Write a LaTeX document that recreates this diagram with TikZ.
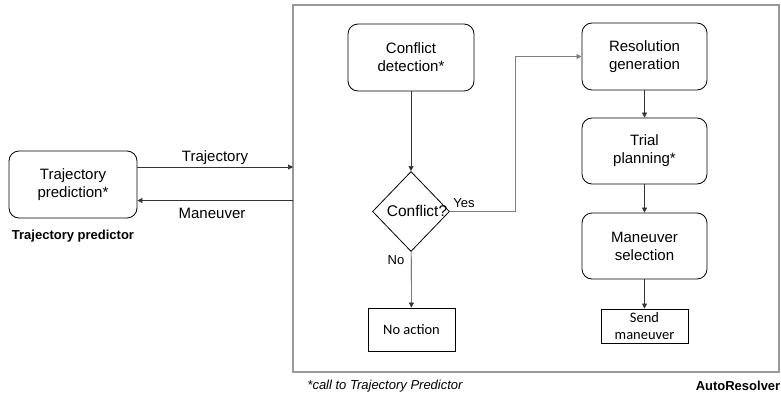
\documentclass[tikz,border=0pt]{standalone}
\usepackage{fontspec}
\setmainfont{Liberation Sans}
\newfontfamily\calib{Carlito}
\usetikzlibrary{shapes.geometric,arrows.meta}
\begin{document}
\begin{tikzpicture}[x=1pt,y=-1pt,
  rbox/.style={draw=black,line width=0.8pt,rounded corners=10pt,align=center,inner sep=0pt,
    font=\fontsize{15}{18}\selectfont},
  sbox/.style={draw=black,line width=0.8pt,align=center,inner sep=0pt,
    font=\calib\fontsize{14.5}{17}\selectfont},
  conn/.style={draw=black!80,line width=0.6pt,-{Triangle[length=5pt,width=5pt]}},
  lbl/.style={font=\fontsize{15}{18}\selectfont,inner sep=0pt},
  small/.style={font=\fontsize{13}{15}\selectfont,inner sep=0pt}]
\useasboundingbox (0,0) rectangle (781,401);
\draw[draw=black!40,line width=1.4pt] (293,5) rectangle (779,372);

\node[rbox,minimum width=128pt,minimum height=67pt] (tp) at (73,184.5) {Trajectory\\prediction*};
\node[small,font=\bfseries\fontsize{13}{15}\selectfont] (tpl) at (73,236) {Trajectory predictor};

\node[rbox,minimum width=126pt,minimum height=67pt] (cd) at (411,57.5) {Conflict\\detection*};
\node[draw=black,line width=0.8pt,shape=diamond,inner sep=0pt,minimum width=77pt,minimum height=80pt] (dm) at (411,211.5) {};
\node[lbl,font=\fontsize{15.5}{18}\selectfont] (dmt) at (417,211) {Conflict?};
\node[sbox,minimum width=87pt,minimum height=43pt] (na) at (411.5,329.5) {No action};

\node[rbox,minimum width=125pt,minimum height=67pt] (rg) at (644.5,56.5) {Resolution\\generation};
\node[rbox,minimum width=125pt,minimum height=66pt] (trp) at (644.5,151) {Trial\\planning*};
\node[rbox,minimum width=125pt,minimum height=66pt] (ms) at (644.5,246) {Maneuver\\selection};
\node[sbox,minimum width=87pt,minimum height=34pt] (sm) at (644.5,326) {Send\\maneuver};

\coordinate (fin) at (293,167);
\coordinate (fout) at (293,200.5);
\coordinate (yb) at (515,211.5);

\draw[conn] (tp.east |- fin) -- (fin);
\draw[conn] (fout) -- (tp.east |- fout);
\node[lbl] (ltr) at (215,158) {Trajectory};
\node[lbl] (lma) at (212,213) {Maneuver};

\draw[conn] (cd) -- (dm);
\draw[conn,draw=black!50] (dm.east) -- (yb) |- (rg.west);
\node[small] (yes) at (464,203) {Yes};
\draw[conn] (dm) -- (na);
\node[small] (no) at (396,260) {No};

\draw[conn] (rg) -- (trp);
\draw[conn] (trp) -- (ms);
\draw[conn] (ms) -- (sm);

\node[small,font=\itshape\fontsize{13}{15}\selectfont] (fn) at (385,386) {*call to Trajectory Predictor};
\node[small,font=\bfseries\fontsize{13}{15}\selectfont] (ar) at (738,386) {AutoResolver};
\end{tikzpicture}
\end{document}
